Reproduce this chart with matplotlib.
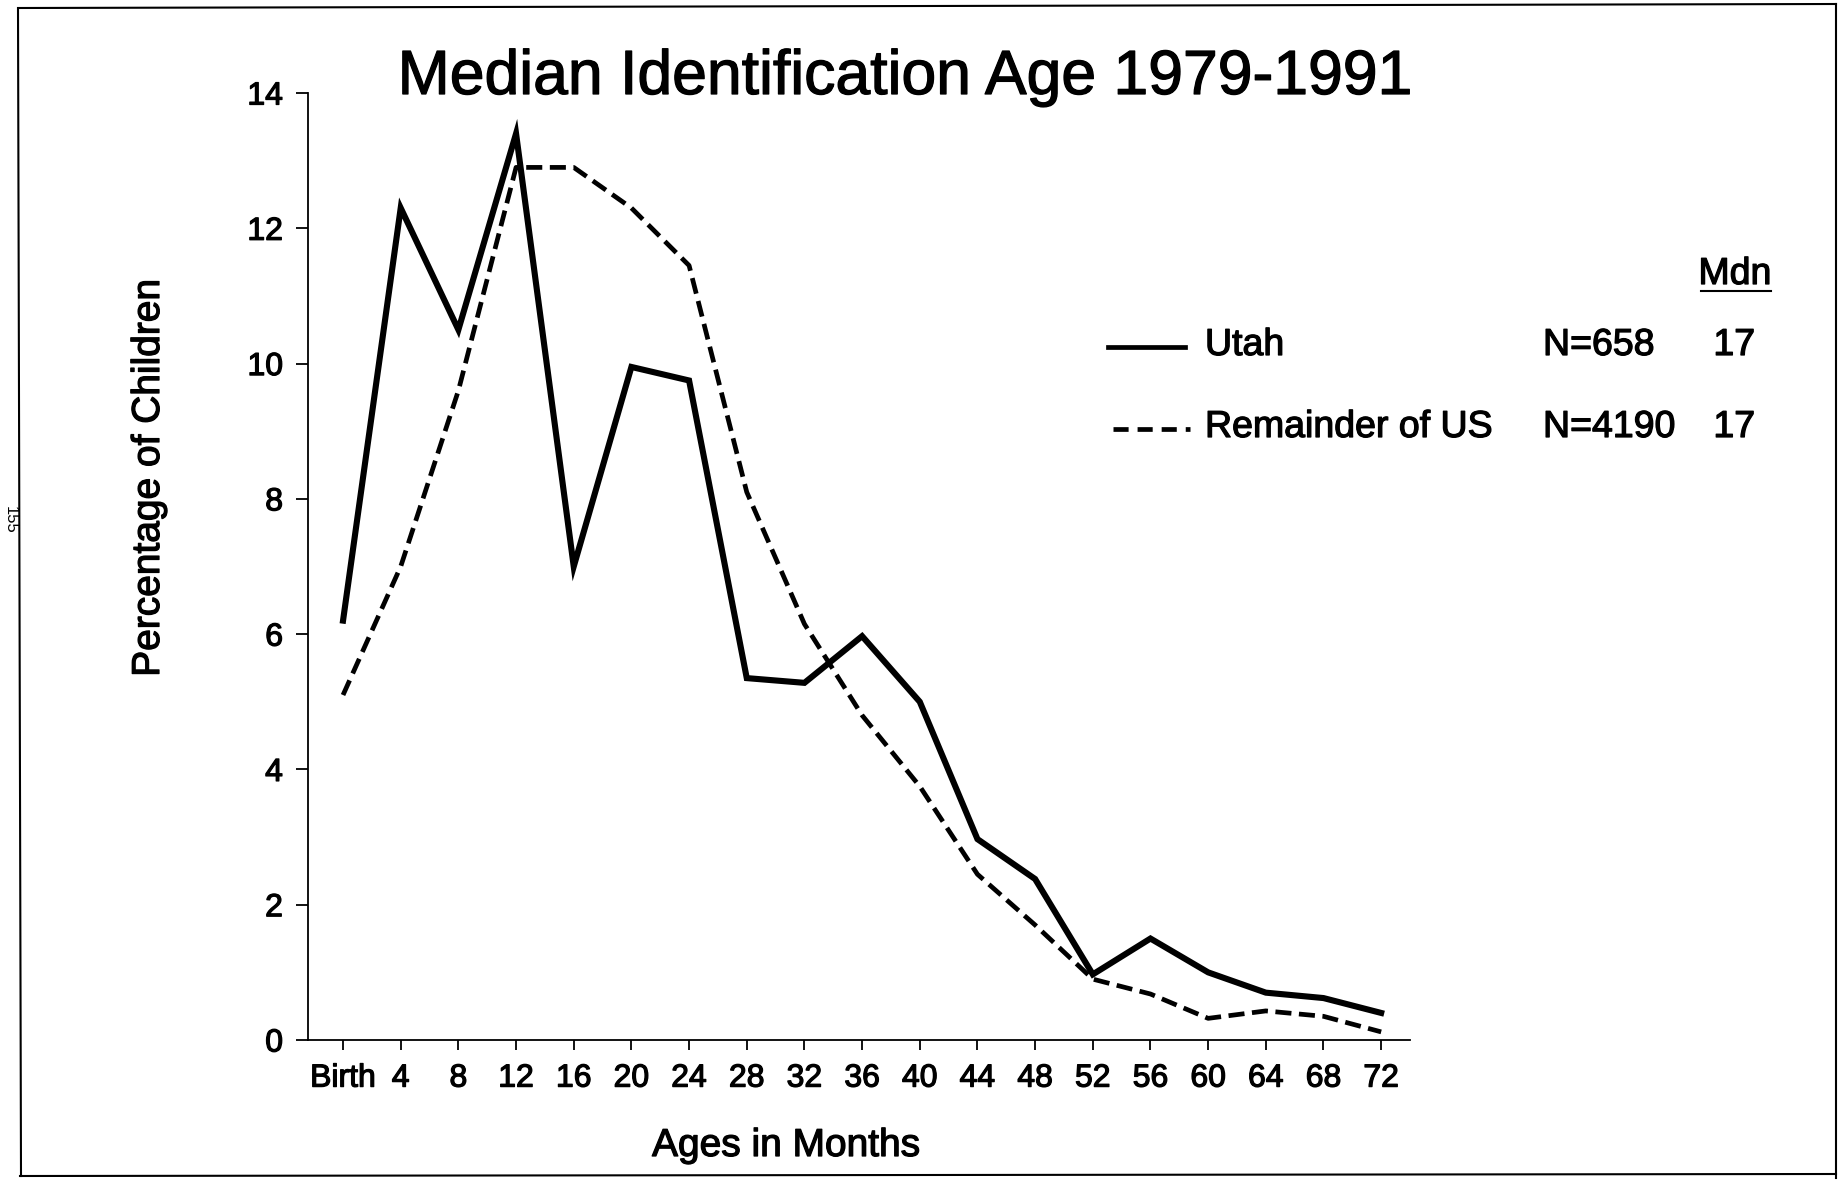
import matplotlib
matplotlib.use("Agg")
import matplotlib.pyplot as plt
import matplotlib.patheffects as pe
from matplotlib.lines import Line2D

plt.rcParams['font.family'] = ['Liberation Sans', 'DejaVu Sans']

# data
ages = [0, 4, 8, 12, 16, 20, 24, 28, 32, 36, 40, 44, 48, 52, 56, 60, 64, 68, 72]
age_labels = ["Birth", "4", "8", "12", "16", "20", "24", "28", "32", "36",
              "40", "44", "48", "52", "56", "60", "64", "68", "72"]
utah = [6.2, 12.3, 10.5, 13.4, 7.0, 9.95, 9.75, 5.35, 5.28, 5.97, 5.0,
        2.97, 2.38, 0.97, 1.5, 1.0, 0.7, 0.62, 0.4]
rest_us = [5.1, 7.0, 9.6, 12.9, 12.9, 12.3, 11.45, 8.1, 6.15, 4.8, 3.75,
           2.45, 1.7, 0.9, 0.68, 0.32, 0.43, 0.35, 0.12]
series_names = ["Utah", "Remainder of US"]
series_n = ["N=658", "N=4190"]
series_mdn = ["17", "17"]

W, H = 1843, 1181
fig = plt.figure(figsize=(W / 100, H / 100), dpi=100)

def fx(x):
    return x / W

def fy(y):
    return 1 - y / H

# slightly heavier text, like the scanned print
ink = [pe.withStroke(linewidth=0.9, foreground="black")]

ax = fig.add_axes([fx(308), fy(1040), fx(1410) - fx(308), fy(93) - fy(1040)])

ax.plot(ages, utah, color="black", lw=4.4, solid_joinstyle="miter")
ax.plot(ages, rest_us, color="black", lw=3.4, linestyle=(0, (3.4, 1.6)))

ax.set_xlim(-2.43, 74.0)
ax.set_ylim(0, 14)
ax.set_xticks(ages)
ax.set_xticklabels(age_labels)
ax.set_yticks(range(0, 15, 2))

ax.spines['top'].set_visible(False)
ax.spines['right'].set_visible(False)
ax.spines['left'].set_linewidth(1.3)
ax.spines['bottom'].set_linewidth(1.3)
ax.tick_params(axis='x', direction='out', length=7, width=1.3, pad=10, labelsize=23)
ax.tick_params(axis='y', direction='out', length=9, width=1.3, pad=9, labelsize=23)
for lab in ax.get_xticklabels() + ax.get_yticklabels():
    lab.set_path_effects(ink)

fig.text(fx(905), fy(94), "Median Identification Age 1979-1991",
         ha='center', va='baseline', fontsize=45, path_effects=ink)
fig.text(fx(149), fy(478), "Percentage of Children", rotation=90,
         ha='center', va='center', fontsize=28, path_effects=ink)
fig.text(fx(786), fy(1146), "Ages in Months", ha='center', va='center',
         fontsize=28, path_effects=ink)

# legend table
fig.text(fx(1735), fy(274), "Mdn", ha='center', va='center', fontsize=27, path_effects=ink)
fig.add_artist(Line2D([fx(1701), fx(1771)], [fy(291), fy(291)],
                      transform=fig.transFigure, color="black", lw=1.5))

rows_y = [345, 427]
styles = ['-', (0, (3.2, 1.9))]
for i in range(2):
    y = rows_y[i]
    fig.add_artist(Line2D([fx(1108 + 5 * i), fx(1185 + 5 * i)], [fy(y + 2), fy(y + 2)],
                          transform=fig.transFigure, color="black",
                          lw=3.4, linestyle=styles[i]))
    fig.text(fx(1205), fy(y), series_names[i], ha='left', va='center',
             fontsize=27, path_effects=ink)
    fig.text(fx(1543), fy(y), series_n[i], ha='left', va='center',
             fontsize=27, path_effects=ink)
    fig.text(fx(1755), fy(y), series_mdn[i], ha='right', va='center',
             fontsize=27, path_effects=ink)

# scanned page frame
frame = dict(transform=fig.transFigure, color="black", lw=1.5)
fig.add_artist(Line2D([fx(20), fx(1836)], [fy(8), fy(4)], **frame))
fig.add_artist(Line2D([fx(1836), fx(1836)], [fy(4), fy(1178)], **frame))
fig.add_artist(Line2D([fx(20), fx(1836)], [fy(1176), fy(1174)], **frame))
fig.add_artist(Line2D([fx(18), fx(21)], [fy(8), fy(1176)], **frame))
fig.text(fx(10), fy(520), "155", rotation=-90, ha='center', va='center', fontsize=12)

fig.savefig("out.png", dpi=100)
